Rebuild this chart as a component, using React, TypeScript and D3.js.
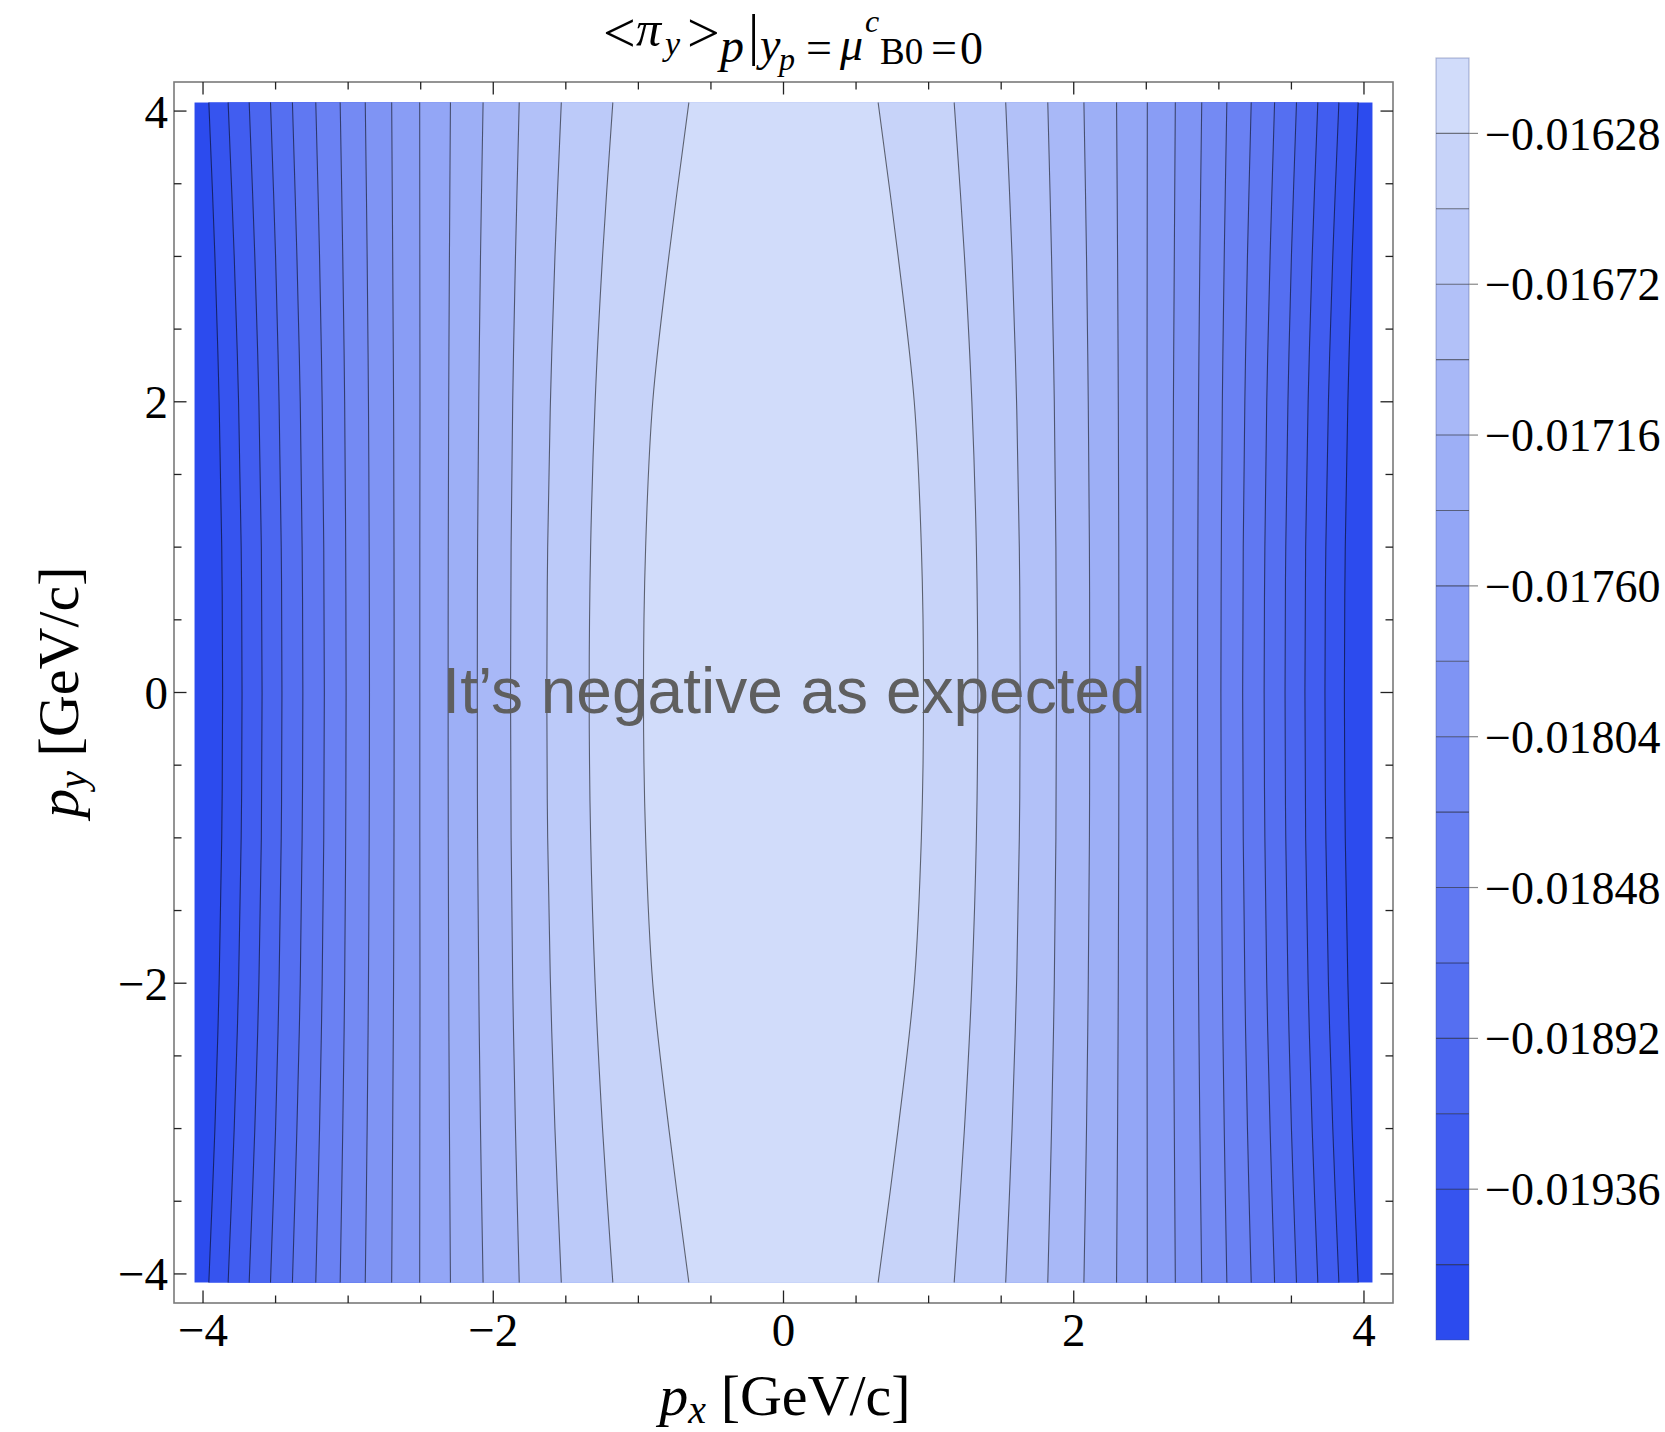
import React from "react";
import * as d3 from "d3";

const W = 1665;
const H = 1432;

// Contour levels, from the central (highest) value outwards
const LEVELS = [
  -0.01628, -0.0165, -0.01672, -0.01694, -0.01716, -0.01738, -0.0176, -0.01782,
  -0.01804, -0.01826, -0.01848, -0.0187, -0.01892, -0.01914, -0.01936, -0.01958,
];

// Extent of the colour legend
const LEGEND_TOP = -0.01606;
const LEGEND_BOTTOM = -0.0198;

// Labelled legend values
const LEGEND_TICKS = [-0.01628, -0.01672, -0.01716, -0.0176, -0.01804, -0.01848, -0.01892, -0.01936];

// Frame tick labels
const AXIS_TICKS = [-4, -2, 0, 2, 4];

// p_y rows at which contour positions are tabulated
const PY_ROWS = [4.06, 3, 2, 1, 0, -1, -2, -3, -4.06];

// |p_x| of each contour (same order as LEVELS) on the rows above
const CONTOUR_PX = [
  [0.652, 0.79, 0.901, 0.95, 0.965, 0.95, 0.901, 0.79, 0.652],
  [1.176, 1.247, 1.298, 1.329, 1.339, 1.329, 1.298, 1.247, 1.176],
  [1.531, 1.575, 1.606, 1.625, 1.631, 1.625, 1.606, 1.575, 1.531],
  [1.821, 1.847, 1.866, 1.877, 1.881, 1.877, 1.866, 1.847, 1.821],
  [2.07, 2.088, 2.1, 2.108, 2.11, 2.108, 2.1, 2.088, 2.07],
  [2.295, 2.302, 2.307, 2.31, 2.311, 2.31, 2.307, 2.302, 2.295],
  [2.507, 2.506, 2.505, 2.506, 2.506, 2.506, 2.505, 2.506, 2.507],
  [2.7, 2.693, 2.687, 2.684, 2.683, 2.684, 2.687, 2.693, 2.7],
  [2.882, 2.869, 2.86, 2.855, 2.853, 2.855, 2.86, 2.869, 2.882],
  [3.055, 3.037, 3.024, 3.017, 3.014, 3.017, 3.024, 3.037, 3.055],
  [3.223, 3.197, 3.179, 3.168, 3.164, 3.168, 3.179, 3.197, 3.223],
  [3.384, 3.353, 3.33, 3.317, 3.312, 3.317, 3.33, 3.353, 3.384],
  [3.535, 3.5, 3.476, 3.461, 3.456, 3.461, 3.476, 3.5, 3.535],
  [3.682, 3.643, 3.615, 3.598, 3.593, 3.598, 3.615, 3.643, 3.682],
  [3.827, 3.785, 3.755, 3.737, 3.731, 3.737, 3.755, 3.785, 3.827],
  [3.96, 3.918, 3.889, 3.871, 3.865, 3.871, 3.889, 3.918, 3.96],
];

const DATA_EXTENT = 4.06;

const SERIF = "'Liberation Serif', 'Times New Roman', Times, serif";
const SANS = "'Liberation Sans', Arial, Helvetica, sans-serif";

const LIGHT = "#d1dcfa";
const DARK = "#2c4bee";

const fmtLegend = (v: number) => d3.format(".5f")(v).replace("-", "\u2212");
const fmtAxis = (v: number) => String(v).replace("-", "\u2212");

export default function App() {
  const x = d3.scaleLinear().domain([-4.2, 4.2]).range([174, 1393]);
  const y = d3.scaleLinear().domain([-4.2, 4.2]).range([1303, 82]);
  const cy = d3.scaleLinear().domain([LEGEND_TOP, LEGEND_BOTTOM]).range([58, 1340]);

  const nBands = LEVELS.length + 1;
  const bandColor = (b: number) => d3.interpolateRgb(LIGHT, DARK)(b / (nBands - 1));

  const area = d3
    .area<number>()
    .y((_, i) => y(PY_ROWS[i]))
    .x0((m) => x(-m))
    .x1((m) => x(m))
    .curve(d3.curveCatmullRom);

  const lineFor = (sign: number) =>
    d3
      .line<number>()
      .x((m) => x(sign * m))
      .y((_, i) => y(PY_ROWS[i]))
      .curve(d3.curveCatmullRom);

  const fx0 = x(-DATA_EXTENT);
  const fx1 = x(DATA_EXTENT);
  const fy0 = y(DATA_EXTENT);
  const fy1 = y(-DATA_EXTENT);

  const minorTicks = d3.range(-4, 4.001, 0.5);
  const isMajor = (v: number) => Math.abs(v % 2) < 1e-9;
  const left = x.range()[0];
  const right = x.range()[1];
  const top = y.range()[1];
  const bottom = y.range()[0];

  const barX0 = 1436;
  const barX1 = 1469;
  const bandEdges = [LEGEND_TOP, ...LEVELS, LEGEND_BOTTOM];

  return (
    <svg
      width={W}
      height={H}
      viewBox={`0 0 ${W} ${H}`}
      style={{ position: "absolute", left: 0, top: 0, display: "block", background: "#fff" }}
    >
      <defs>
        <clipPath id="field-clip">
          <rect x={fx0} y={fy0} width={fx1 - fx0} height={fy1 - fy0} />
        </clipPath>
      </defs>

      {/* filled contour bands */}
      <g clipPath="url(#field-clip)">
        <rect x={fx0} y={fy0} width={fx1 - fx0} height={fy1 - fy0} fill={bandColor(nBands - 1)} />
        {CONTOUR_PX.map((mags, k) => ({ mags, k }))
          .reverse()
          .map(({ mags, k }) => (
            <path key={`band-${k}`} d={area(mags) ?? ""} fill={bandColor(k)} />
          ))}
        {CONTOUR_PX.map((mags, k) => (
          <g key={`line-${k}`} fill="none" stroke="#000" strokeOpacity={0.55} strokeWidth={1.1}>
            <path d={lineFor(-1)(mags) ?? ""} />
            <path d={lineFor(1)(mags) ?? ""} />
          </g>
        ))}
      </g>

      {/* frame */}
      <rect x={left} y={top} width={right - left} height={bottom - top} fill="none" stroke="#7a7a7a" strokeWidth={1.6} />
      <g stroke="#222" strokeWidth={1.3}>
        {minorTicks.map((v) => {
          const len = isMajor(v) ? 12.5 : 7.5;
          return (
            <g key={`t-${v}`}>
              <line x1={x(v)} x2={x(v)} y1={bottom} y2={bottom - len} />
              <line x1={x(v)} x2={x(v)} y1={top} y2={top + len} />
              <line x1={left} x2={left + len} y1={y(v)} y2={y(v)} />
              <line x1={right} x2={right - len} y1={y(v)} y2={y(v)} />
            </g>
          );
        })}
      </g>
      <g fontFamily={SERIF} fontSize={47} fill="#000">
        {AXIS_TICKS.map((v) => (
          <text key={`xl-${v}`} x={x(v)} y={1346} textAnchor="middle">
            {fmtAxis(v)}
          </text>
        ))}
        {AXIS_TICKS.map((v) => (
          <text key={`yl-${v}`} x={168} y={y(v)} dy="0.35em" textAnchor="end">
            {fmtAxis(v)}
          </text>
        ))}
      </g>

      {/* axis titles */}
      <text x={785} y={1415} textAnchor="middle" fontFamily={SERIF} fontSize={58}>
        <tspan fontStyle="italic">p</tspan>
        <tspan fontStyle="italic" fontSize={40} dy={8}>x</tspan>
        <tspan dy={-8}> [GeV/c]</tspan>
      </text>
      <text transform={`translate(78,692) rotate(-90)`} textAnchor="middle" fontFamily={SERIF} fontSize={58}>
        <tspan fontStyle="italic">p</tspan>
        <tspan fontStyle="italic" fontSize={40} dy={8}>y</tspan>
        <tspan dy={-8}> [GeV/c]</tspan>
      </text>

      {/* plot title */}
      <g fontFamily={SERIF} fill="#000">
        <text x={603} y={52} fontSize={58}>&lt;</text>
        <text x={636} y={46} fontSize={50} fontStyle="italic">π</text>
        <text x={665} y={55} fontSize={34} fontStyle="italic">y</text>
        <text x={687} y={52} fontSize={58}>&gt;</text>
        <text x={720} y={62} fontSize={48} fontStyle="italic">p</text>
        <text x={748} y={54} fontSize={56}>|</text>
        <text x={760} y={60} fontSize={46} fontStyle="italic">y</text>
        <text x={779} y={70} fontSize={32} fontStyle="italic">p</text>
        <text x={806} y={63} fontSize={46}>=</text>
        <text x={840} y={60} fontSize={46} fontStyle="italic">μ</text>
        <text x={865} y={32} fontSize={32} fontStyle="italic">c</text>
        <text x={880} y={64} fontSize={37}>B0</text>
        <text x={931} y={63} fontSize={46}>=</text>
        <text x={960} y={64} fontSize={46}>0</text>
      </g>

      {/* annotation */}
      <text x={794} y={713} textAnchor="middle" fontFamily={SANS} fontSize={64} fill="#5f5f5f">
        It’s negative as expected
      </text>

      {/* colour legend */}
      <g>
        {d3.range(nBands).map((b) => (
          <rect
            key={`cb-${b}`}
            x={barX0}
            y={cy(bandEdges[b])}
            width={barX1 - barX0}
            height={cy(bandEdges[b + 1]) - cy(bandEdges[b])}
            fill={bandColor(b)}
          />
        ))}
        {LEVELS.map((v) => (
          <line key={`cbl-${v}`} x1={barX0} x2={barX1} y1={cy(v)} y2={cy(v)} stroke="#000" strokeOpacity={0.5} strokeWidth={1.1} />
        ))}
        <rect x={barX0} y={cy(LEGEND_TOP)} width={barX1 - barX0} height={cy(LEGEND_BOTTOM) - cy(LEGEND_TOP)} fill="none" stroke="#3a4a8a" strokeOpacity={0.35} strokeWidth={1.2} />
        {LEGEND_TICKS.map((v) => (
          <g key={`cbt-${v}`}>
            <line x1={barX1} x2={barX1 + 9} y1={cy(v)} y2={cy(v)} stroke="#888" strokeWidth={1.2} />
            <text x={1485} y={cy(v)} dy="0.35em" fontFamily={SERIF} fontSize={46}>
              {fmtLegend(v)}
            </text>
          </g>
        ))}
      </g>
    </svg>
  );
}
